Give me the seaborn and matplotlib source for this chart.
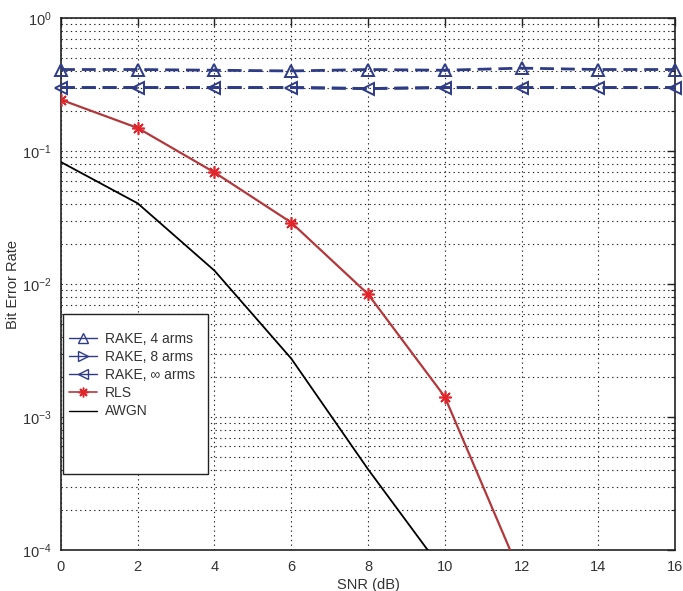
import numpy as np
import pandas as pd
import matplotlib
matplotlib.use("Agg")
import matplotlib.pyplot as plt
from matplotlib.lines import Line2D
from matplotlib.patches import Rectangle
from matplotlib.ticker import LogLocator, NullFormatter
import seaborn as sns

# ---- data -------------------------------------------------------------
snr_db = [0, 2, 4, 6, 8, 10, 12, 14, 16]
ber_rake_4 = [0.41, 0.41, 0.405, 0.40, 0.41, 0.405, 0.42, 0.41, 0.41]
ber_rake_8 = [0.30, 0.30, 0.30, 0.30, 0.295, 0.30, 0.30, 0.30, 0.30]
ber_rake_inf = [0.30, 0.30, 0.30, 0.30, 0.295, 0.30, 0.30, 0.30, 0.30]

snr_rls = [0, 2, 4, 6, 8, 10, 12]
ber_rls = [0.243, 0.149, 0.069, 0.029, 0.0084, 0.00142, 6.3e-5]

snr_awgn = [0, 2, 4, 6, 8, 10]
ber_awgn = [0.0826, 0.0404, 0.0126, 0.00275, 0.000405, 6.7e-5]

legend_labels = ["RAKE, 4 arms", "RAKE, 8 arms", "RAKE, \u221e arms", "RLS", "AWGN"]

# ---- style ------------------------------------------------------------
sns.set_theme(style="white")
plt.rcParams["font.family"] = ["Liberation Sans", "DejaVu Sans"]
plt.rcParams["mathtext.fontset"] = "custom"
plt.rcParams["mathtext.rm"] = "Liberation Sans"
plt.rcParams["mathtext.it"] = "Liberation Sans"

NAVY = "#2e3b86"
RED_LINE = "#b2383c"
RED_MARK = "#e0262a"
ASTERISK = (8, 2, 0)

fig = plt.figure(figsize=(6.83, 5.91), dpi=100)
ax = fig.add_axes([0.0893, 0.0694, 0.899, 0.9001])

rake_kw = dict(color=NAVY, linewidth=2.0, markersize=8, markerfacecolor="none",
               markeredgecolor=NAVY, markeredgewidth=1.4, legend=False, ax=ax,
               clip_on=False, zorder=3)

# RAKE curves: dashed lines with hollow triangle markers
sns.lineplot(x=snr_db, y=ber_rake_8, **{**rake_kw, "markersize": 0})
ax.lines[-1].set_dashes((5, 2.5))
sns.lineplot(x=snr_db, y=ber_rake_4, marker="^", **rake_kw)
ax.lines[-1].set_dashes((5, 2.5))
sns.lineplot(x=snr_db, y=ber_rake_inf, marker="<", **rake_kw)
ax.lines[-1].set_dashes((5, 2.5))

sns.lineplot(x=snr_rls, y=ber_rls, color=RED_LINE, linewidth=1.6, marker=ASTERISK,
             markersize=9, markerfacecolor=RED_MARK, markeredgecolor=RED_MARK,
             markeredgewidth=1.2, legend=False, ax=ax, zorder=3)
sns.lineplot(x=snr_awgn, y=ber_awgn, color="black", linewidth=1.3,
             legend=False, ax=ax, zorder=3)

# ---- axes -------------------------------------------------------------
ax.set_yscale("log")
ax.set_xlim(0, 16)
ax.set_ylim(1e-4, 1)
ax.set_xticks(snr_db)
ax.yaxis.set_major_locator(LogLocator(base=10, numticks=10))
ax.yaxis.set_minor_locator(LogLocator(base=10, subs=np.arange(2, 10), numticks=50))
ax.yaxis.set_minor_formatter(NullFormatter())

grid_kw = dict(color="#222222", linestyle=(0, (1.2, 3)), linewidth=0.8)
ax.grid(True, which="major", axis="both", **grid_kw)
ax.grid(True, which="minor", axis="y", **grid_kw)

for s in ax.spines.values():
    s.set_visible(True)
    s.set_color("#222222")
    s.set_linewidth(1.2)

ax.tick_params(which="both", direction="in", top=True, right=True,
               colors="#222222", labelcolor="#333333", labelsize=10.5)
ax.tick_params(which="major", length=6, width=1.0, pad=7)
ax.tick_params(which="minor", length=3, width=0.8)

ax.set_xlabel("SNR (dB)", fontsize=10.5, color="#333333", labelpad=3)
ax.set_ylabel("Bit Error Rate", fontsize=10.5, color="#333333")
ax.yaxis.set_label_coords(-0.067, 0.5)

# ---- legend -----------------------------------------------------------
box = Rectangle((0.003, 0.142), 0.236, 0.301, transform=ax.transAxes,
                facecolor="white", edgecolor="#222222", linewidth=1.0, zorder=5)
ax.add_patch(box)

handles = [
    Line2D([], [], color=NAVY, linewidth=1.0, marker="^", markersize=7,
           markerfacecolor="none"),
    Line2D([], [], color=NAVY, linewidth=1.0, marker=">", markersize=7,
           markerfacecolor="none"),
    Line2D([], [], color=NAVY, linewidth=1.0, marker="<", markersize=7,
           markerfacecolor="none"),
    Line2D([], [], color=RED_LINE, linewidth=1.2, marker=ASTERISK, markersize=7,
           markerfacecolor=RED_MARK, markeredgecolor=RED_MARK, markeredgewidth=1.1),
    Line2D([], [], color="black", linewidth=1.0),
]
leg = ax.legend(handles, legend_labels, loc="upper left",
                bbox_to_anchor=(0.006, 0.418), frameon=False, fontsize=10,
                handlelength=2.0, handletextpad=0.6, labelspacing=0.3,
                borderaxespad=0, borderpad=0.3)
leg.set_zorder(6)
for t in leg.get_texts():
    t.set_color("#333333")

fig.savefig("out.png", dpi=100)
